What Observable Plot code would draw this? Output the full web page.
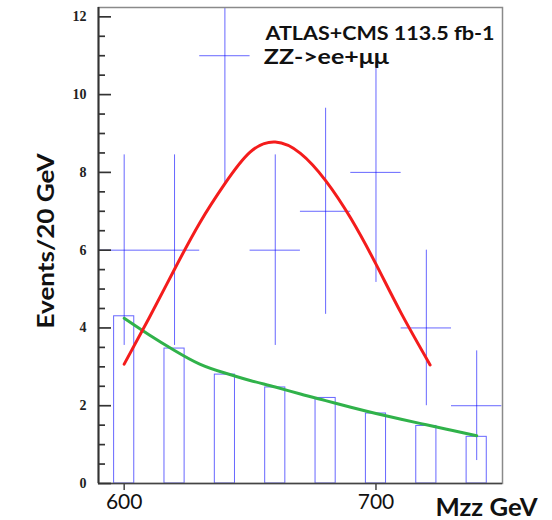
<!DOCTYPE html>
<html>
<head>
<meta charset="utf-8">
<script src="https://cdn.jsdelivr.net/npm/d3@7"></script>
<script src="https://cdn.jsdelivr.net/npm/@observablehq/plot@0.6"></script>
<style>
  html, body { margin: 0; padding: 0; background: #fff; }
  #chart svg { display: block; }
</style>
</head>
<body>
<div id="chart"></div>
<script>
// ---- data ----
const binCenters = [600, 620, 640, 660, 680, 700, 720, 740];          // Mzz (GeV)
const observed   = [6, 6, 11, 6, 7, 8, 4, 2];                          // events / 20 GeV
const obsError   = [2.45, 2.45, 3.32, 2.45, 2.65, 2.83, 2.0, 1.41];    // vertical error
const background = [4.3, 3.47, 2.8, 2.47, 2.2, 1.8, 1.48, 1.2];        // histogram

const bgFitMass  = [600, 610, 620, 630, 640, 650, 660, 670, 680, 690, 700, 710, 720, 730, 740];
const bgFitValue = [4.25, 3.82, 3.42, 3.07, 2.84, 2.65, 2.48, 2.30, 2.13, 1.96, 1.80, 1.65, 1.51, 1.37, 1.23];

const sigFitMass  = [600, 610, 620, 630, 640, 650, 660, 670, 680, 690, 700, 710, 721.5];
const sigFitValue = [3.07, 4.27, 5.51, 6.70, 7.71, 8.52, 8.78, 8.49, 7.79, 6.82, 5.64, 4.38, 3.05];

const yMajorTicks = [0, 2, 4, 6, 8, 10, 12];
const yMinorTicks = [0.5, 1, 1.5, 2.5, 3, 3.5, 4.5, 5, 5.5, 6.5, 7, 7.5, 8.5, 9, 9.5, 10.5, 11, 11.5];
const xTicks = [600, 700];

const xDomain = [589.8, 750.25];
const yDomain = [0, 12.24];

const titleText  = "ATLAS+CMS 113.5 fb-1";
const subText    = "ZZ->ee+\u03bc\u03bc";
const xLabelText = "Mzz GeV";
const yLabelText = "Events/20 GeV";

// ---- tables ----
const points = binCenters.map((x, i) => ({x, n: observed[i], err: obsError[i], bg: background[i]}));
const bgFit  = bgFitMass.map((x, i) => ({x, y: bgFitValue[i]}));
const sigFit = sigFitMass.map((x, i) => ({x, y: sigFitValue[i]}));
const majorTickRows = yMajorTicks.map(v => ({v}));
const minorTickRows = yMinorTicks.map(v => ({v}));

const W = 552, H = 520, ML = 98, MR = 50, MT = 7, MB = 37;
const pxPerX = (W - ML - MR) / (xDomain[1] - xDomain[0]);   // from the x scale's own domain/range
const majorLen = 13 / pxPerX, minorLen = 7 / pxPerX;         // inward tick lengths, in x units

const blue = "#0000ff";
const sans = "Lato, 'Noto Sans', sans-serif";

const chart = Plot.plot({
  width: W,
  height: H,
  marginLeft: ML,
  marginRight: MR,
  marginTop: MT,
  marginBottom: MB,
  x: {domain: xDomain},
  y: {domain: yDomain},
  style: {background: "#fff", overflow: "visible"},
  marks: [
    // background histogram (outlined bars)
    Plot.rectY(points, {x1: d => d.x - 4, x2: d => d.x + 4, y: "bg",
      fill: "none", stroke: blue, strokeOpacity: 0.6, strokeWidth: 1}),
    // data error bars
    Plot.ruleX(points, {x: "x", y1: d => d.n - d.err, y2: d => d.n + d.err,
      stroke: blue, strokeOpacity: 0.6, strokeWidth: 1, clip: true}),
    Plot.ruleY(points, {y: "n", x1: d => d.x - 10, x2: d => d.x + 10,
      stroke: blue, strokeOpacity: 0.6, strokeWidth: 1, clip: true}),
    // fits
    Plot.line(bgFit, {x: "x", y: "y", curve: "natural", stroke: "#30b24a", strokeWidth: 3}),
    Plot.line(sigFit, {x: "x", y: "y", curve: "natural", stroke: "#f41c1c", strokeWidth: 3}),
    // frame
    Plot.frame({stroke: "#8a8a8a", strokeWidth: 1.5}),
    Plot.ruleX([xDomain[0]], {stroke: "#333", strokeWidth: 2}),
    Plot.ruleY([yDomain[0]], {stroke: "#444", strokeWidth: 1.5}),
    // y ticks (inward)
    Plot.ruleY(majorTickRows, {y: "v", x1: d => xDomain[0], x2: d => xDomain[0] + majorLen, stroke: "#333", strokeWidth: 1.7}),
    Plot.ruleY(minorTickRows, {y: "v", x1: d => xDomain[0], x2: d => xDomain[0] + minorLen, stroke: "#333", strokeWidth: 1.7}),
    Plot.axisY({ticks: yMajorTicks, tickSize: 0, tickPadding: 12, tickFormat: d => d, label: null,
      fontFamily: "'Liberation Serif', serif", fontWeight: "bold", fontSize: 14, fill: "#222"}),
    // x axis
    Plot.axisX({ticks: xTicks, tickSize: 7, tickPadding: 4, tickFormat: d => d, label: null,
      stroke: "#444", strokeWidth: 1.5,
      fontFamily: sans, fontSize: 21, fill: "#111"}),
    // labels
    Plot.text([xLabelText], {text: d => d, frameAnchor: "bottom-right", dx: -67, dy: 32,
      textAnchor: "start", lineAnchor: "bottom", fontFamily: sans, fontWeight: "bold", fontSize: 24, fill: "#111"}),
    Plot.text([yLabelText], {text: d => d, frameAnchor: "left", dx: -45, dy: -4.5, rotate: -90,
      textAnchor: "middle", lineAnchor: "bottom", fontFamily: sans, fontWeight: "bold", fontSize: 22, fill: "#111"}),
    Plot.text([titleText], {text: d => d, frameAnchor: "top-left", dx: 167, dy: 32,
      textAnchor: "start", lineAnchor: "bottom", fontFamily: sans, fontWeight: "bold", fontSize: 19.5, fill: "#111"}),
    Plot.text([subText], {text: d => d, frameAnchor: "top-left", dx: 165.3, dy: 56.3,
      textAnchor: "start", lineAnchor: "bottom", fontFamily: sans, fontWeight: "bold", fontSize: 21, fill: "#111"})
  ]
});

// stretch the label texts to the widths they have in the reference
const textWidths = new Map([[titleText, 229], [subText, 125], [xLabelText, 102], [yLabelText, 175]]);
d3.select(chart).selectAll("text").each(function () {
  const w = textWidths.get(this.textContent);
  if (w) {
    this.setAttribute("textLength", w);
    this.setAttribute("lengthAdjust", "spacingAndGlyphs");
  }
});

document.getElementById("chart").appendChild(chart);
</script>
</body>
</html>
